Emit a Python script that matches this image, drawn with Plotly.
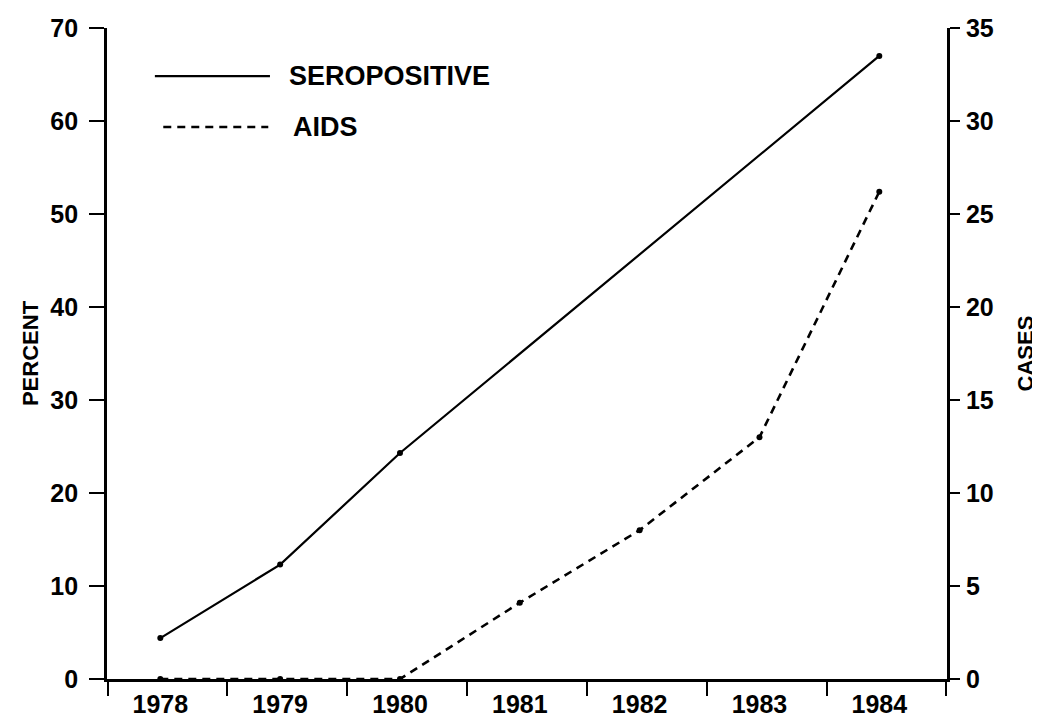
import plotly.graph_objects as go

years = [1978, 1979, 1980, 1981, 1982, 1983, 1984]
year_labels = ["1978", "1979", "1980", "1981", "1982", "1983", "1984"]

sero_years = [1978, 1979, 1980, 1984]
sero_percent = [4.4, 12.3, 24.3, 67.0]

aids_years = [1978, 1979, 1980, 1981, 1982, 1983, 1984]
aids_cases = [0, 0, 0, 4.1, 8.0, 13.0, 26.2]

boundaries = [y - 0.44 for y in years] + [years[-1] + 0.56]

FONT = "Liberation Sans, Arial, sans-serif"
TICKFONT = dict(family=FONT, size=25, color="black", weight="bold")
TITLEFONT = dict(family=FONT, size=22, color="black", weight="bold")

fig = go.Figure()
fig.add_trace(go.Scatter(
    x=sero_years, y=sero_percent, name="SEROPOSITIVE", mode="lines+markers",
    line=dict(color="black", width=2.2), marker=dict(color="black", size=6),
    yaxis="y", showlegend=False,
))
fig.add_trace(go.Scatter(
    x=aids_years, y=aids_cases, name="AIDS", mode="lines+markers",
    line=dict(color="black", width=2.6, dash="8px,6px"), marker=dict(color="black", size=6),
    yaxis="y2", showlegend=False,
))

# legend drawn as line samples + text
fig.add_shape(type="line", xref="paper", yref="paper", x0=0.057, x1=0.194, y0=0.926, y1=0.926,
              line=dict(color="black", width=2.4))
fig.add_shape(type="line", xref="paper", yref="paper", x0=0.067, x1=0.192, y0=0.848, y1=0.848,
              line=dict(color="black", width=2.6, dash="8px,6px"))
fig.add_annotation(xref="paper", yref="paper", x=0.214, y=0.926, text="SEROPOSITIVE", showarrow=False,
                   xanchor="left", yanchor="middle", font=dict(family=FONT, size=27, color="black", weight="bold"))
fig.add_annotation(xref="paper", yref="paper", x=0.219, y=0.848, text="AIDS", showarrow=False,
                   xanchor="left", yanchor="middle", font=dict(family=FONT, size=27, color="black", weight="bold"))

fig.update_layout(
    width=1032, height=709,
    margin=dict(l=99, r=93, t=20, b=38, autoexpand=False),
    paper_bgcolor="white", plot_bgcolor="white",
    font=dict(family=FONT, size=18, color="black"),
    xaxis=dict(
        range=[1977.555, 1984.565], tickvals=years, ticktext=year_labels, automargin=False,
        ticks="", showgrid=False, zeroline=False, showline=True, linecolor="black", linewidth=2.8,
        tickfont=TICKFONT, ticklabelstandoff=1,
        minor=dict(tickvals=boundaries, ticks="outside", ticklen=14, tickwidth=2.2, tickcolor="black", showgrid=False),
    ),
    yaxis=dict(
        range=[0, 70], tickvals=[0, 10, 20, 30, 40, 50, 60, 70], showgrid=False, zeroline=False,
        automargin=False,
        showline=True, linecolor="black", linewidth=2.8, ticks="outside", ticklen=15, tickwidth=2.2,
        tickcolor="black", tickfont=TICKFONT, ticklabelstandoff=6,
        title=dict(text="PERCENT", font=TITLEFONT, standoff=6),
    ),
    yaxis2=dict(
        range=[0, 35], tickvals=[0, 5, 10, 15, 20, 25, 30, 35], overlaying="y", side="right",
        automargin=False,
        showgrid=False, zeroline=False, showline=True, linecolor="black", linewidth=2.8,
        ticks="outside", ticklen=10, tickwidth=2.2, tickcolor="black",
        tickfont=TICKFONT, ticklabelstandoff=1,
        title=dict(text="CASES", font=TITLEFONT, standoff=25),
    ),
)

fig.write_html("out.html")
